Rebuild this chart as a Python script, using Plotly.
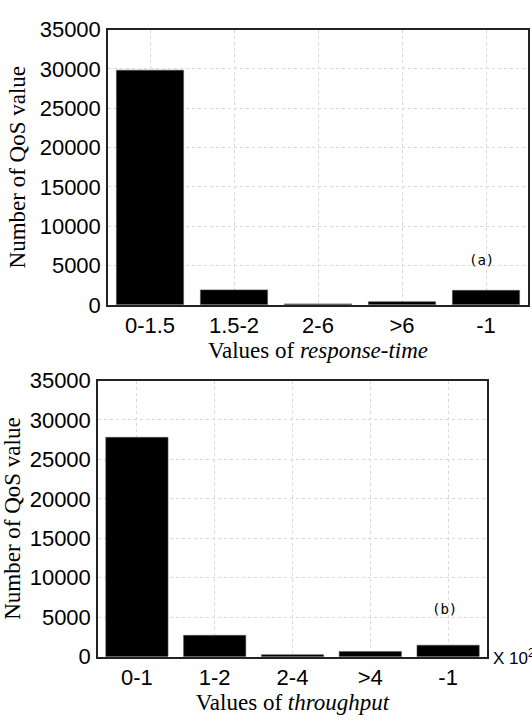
import plotly.graph_objects as go

# Distribution of QoS values
rt_categories = ["0-1.5", "1.5-2", "2-6", ">6", "-1"]
rt_counts = [29850, 1900, 120, 400, 1840]

tp_categories = ["0-1", "1-2", "2-4", ">4", "-1"]
tp_counts = [27800, 2700, 250, 650, 1450]

y_ticks = [0, 5000, 10000, 15000, 20000, 25000, 30000, 35000]
y_ticktext = [str(v) for v in y_ticks]

W, H = 532, 724
tick_font = dict(family="Liberation Sans, Arial, sans-serif", size=22, color="black")
title_font = dict(family="Liberation Serif, Times New Roman, serif", size=23, color="black")

fig = go.Figure()
fig.add_trace(go.Bar(x=rt_categories, y=rt_counts, xaxis="x", yaxis="y",
                     marker=dict(color="black", line=dict(width=0.6, color="#555")),
                     width=0.8, showlegend=False))
fig.add_trace(go.Bar(x=tp_categories, y=tp_counts, xaxis="x2", yaxis="y2",
                     marker=dict(color="black", line=dict(width=0.6, color="#555")),
                     width=0.8, showlegend=False))

def px_x(p):
    return p / W

def px_y(p):
    return 1 - p / H

common_x = dict(showline=True, linecolor="#222", linewidth=1.5, mirror=True,
                showgrid=True, gridcolor="#d9d9d9", griddash="dot", gridwidth=1,
                ticks="", tickfont=tick_font, title_font=title_font,
                zeroline=False, fixedrange=True)
common_y = dict(showline=True, linecolor="#222", linewidth=1.5, mirror=True,
                showgrid=True, gridcolor="#d9d9d9", griddash="dot", gridwidth=1,
                ticks="", tickfont=tick_font, title_font=title_font,
                tickvals=y_ticks, ticktext=y_ticktext, range=[0, 35000],
                zeroline=False, ticklabelstandoff=1, fixedrange=True)

fig.update_layout(
    width=W, height=H, autosize=False,
    margin=dict(l=0, r=0, t=0, b=0),
    paper_bgcolor="white", plot_bgcolor="white",
    bargap=0.2,
    xaxis=dict(common_x, domain=[px_x(108), px_x(528)], anchor="y",
               title=dict(text="Values of <i>response-time</i>", standoff=2)),
    yaxis=dict(common_y, domain=[px_y(303.3), px_y(18.3)], anchor="x",
               title=dict(text="Number of QoS value", standoff=8)),
    xaxis2=dict(common_x, domain=[px_x(98), px_x(487)], anchor="y2",
                title=dict(text="Values of <i>throughput</i>", standoff=2)),
    yaxis2=dict(common_y, domain=[px_y(667.7), px_y(381.7)], anchor="x2",
                title=dict(text="Number of QoS value", standoff=4)),
)

label_font = dict(family="DejaVu Sans Mono, monospace", size=14, color="black")
fig.add_annotation(x=3.95, y=5700, xref="x", yref="y", text="(a)",
                   showarrow=False, font=label_font)
fig.add_annotation(x=3.95, y=6000, xref="x2", yref="y2", text="(b)",
                   showarrow=False, font=label_font)
fig.add_annotation(x=px_x(491), y=0, xref="paper", yref="y2", text="X 10<sup>2</sup>",
                   showarrow=False, xanchor="left", yanchor="middle",
                   font=dict(family="Liberation Sans, Arial, sans-serif", size=17, color="black"))

fig.write_html("out.html")
